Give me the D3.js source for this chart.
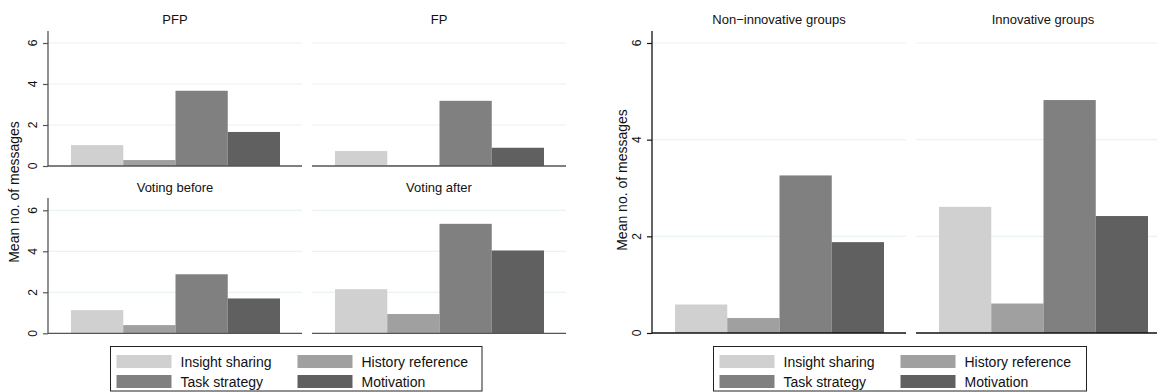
<!DOCTYPE html>
<html>
<head>
<meta charset="utf-8">
<script src="https://cdn.jsdelivr.net/npm/d3@7"></script>
<style>
  body { margin: 0; background: #fff; }
  svg { display: block; font-family: "Liberation Sans", Arial, sans-serif; }
</style>
</head>
<body>
<svg id="chart" width="1157" height="392"></svg>
<script>
// series (message types) and their fills
var seriesNames = ["Insight sharing", "History reference", "Task strategy", "Motivation"];
var seriesColors = ["#d0d0d0", "#a0a0a0", "#808080", "#606060"];

// left figure: 2x2 panels
var leftTitles = ["PFP", "FP", "Voting before", "Voting after"];
var leftValues = [
  [1.02, 0.29, 3.67, 1.66],
  [0.73, 0.03, 3.18, 0.89],
  [1.13, 0.40, 2.88, 1.70],
  [2.15, 0.94, 5.34, 4.04]
];

// right figure: 1x2 panels
var rightTitles = ["Non\u2212innovative groups", "Innovative groups"];
var rightValues = [
  [0.59, 0.31, 3.26, 1.88],
  [2.61, 0.61, 4.82, 2.42]
];

var yTicks = [0, 2, 4, 6];
var yLabel = "Mean no. of messages";

var svg = d3.select("#chart");

// one panel: bars, grid, baseline, title, optional y axis
function drawPanel(opt) {
  var g = svg.append("g");
  var y = d3.scaleLinear().domain([0, 6]).range([opt.y0, opt.y6]);
  var x = d3.scaleBand().domain(seriesNames)
    .range([opt.x + 23, opt.x + opt.w - 22]).padding(0);
  var xEnd = Math.min(opt.x + opt.w, 1157);

  // light grid
  g.selectAll("line.grid").data(yTicks.filter(function(d) { return d > 0; }))
    .enter().append("line")
    .attr("x1", opt.x).attr("x2", xEnd)
    .attr("y1", function(d) { return y(d); }).attr("y2", function(d) { return y(d); })
    .attr("stroke", "#eaf2f3").attr("stroke-width", 1.2);

  g.selectAll("rect").data(opt.values).enter().append("rect")
    .attr("x", function(d, i) { return x(seriesNames[i]); })
    .attr("width", x.bandwidth())
    .attr("y", function(d) { return y(d); })
    .attr("height", function(d) { return y(0) - y(d); })
    .attr("fill", function(d, i) { return seriesColors[i]; });

  // baseline
  g.append("line")
    .attr("x1", opt.x).attr("x2", xEnd)
    .attr("y1", y(0)).attr("y2", y(0))
    .attr("stroke", opt.axisColor).attr("stroke-width", 1.3);

  g.append("text")
    .attr("x", opt.x + opt.w / 2).attr("y", opt.titleY)
    .attr("text-anchor", "middle").attr("font-size", 13).attr("fill", "#111")
    .text(opt.title);

  if (opt.yaxis) {
    var ax = g.append("g").attr("transform", "translate(" + opt.x + ",0)")
      .call(d3.axisLeft(y).tickValues(yTicks).tickSize(5).tickFormat(""));
    ax.select(".domain").remove();
    ax.selectAll(".tick line").attr("stroke", opt.axisColor).attr("stroke-width", 1.2);
    // rotated tick labels, Stata style
    g.selectAll("text.tl").data(yTicks).enter().append("text")
      .attr("transform", function(d) {
        return "translate(" + (opt.x - 11) + "," + y(d) + ") rotate(-90)";
      })
      .attr("text-anchor", "middle")
      .attr("font-size", 12).attr("fill", "#111")
      .text(function(d) { return d; });
    g.append("line")
      .attr("x1", opt.x).attr("x2", opt.x)
      .attr("y1", opt.axisTop).attr("y2", y(0))
      .attr("stroke", opt.axisColor).attr("stroke-width", 1.3);
  }
}

function drawLegend(bx, by, bw, bh, sw, col2) {
  var g = svg.append("g");
  g.append("rect").attr("x", bx).attr("y", by).attr("width", bw).attr("height", bh)
    .attr("fill", "#fff").attr("stroke", "#222").attr("stroke-width", 1);
  var rows = [by + 8.5, by + 28.5];
  seriesNames.forEach(function(name, i) {
    var cx = i % 2 === 0 ? bx + 6 : bx + col2;
    var ry = rows[Math.floor(i / 2)];
    g.append("rect").attr("x", cx).attr("y", ry).attr("width", sw).attr("height", 13)
      .attr("fill", seriesColors[i]);
    g.append("text").attr("x", cx + sw + 9).attr("y", ry + 11.5)
      .attr("font-size", 14).attr("fill", "#111").text(name);
  });
}

// left figure
var lp = [
  { x: 48, titleY: 24, y0: 166, y6: 43, axisTop: 31 },
  { x: 312, titleY: 24, y0: 166, y6: 43, axisTop: 31 },
  { x: 48, titleY: 192, y0: 333.3, y6: 210.3, axisTop: 198 },
  { x: 312, titleY: 192, y0: 333.3, y6: 210.3, axisTop: 198 }
];
lp.forEach(function(p, i) {
  drawPanel({ x: p.x, w: 254, y0: p.y0, y6: p.y6, axisTop: p.axisTop, titleY: p.titleY,
    title: leftTitles[i], values: leftValues[i], yaxis: i % 2 === 0, axisColor: "#555" });
});
svg.append("text")
  .attr("transform", "translate(19,192) rotate(-90)")
  .attr("text-anchor", "middle").attr("font-size", 14).attr("fill", "#111")
  .text(yLabel);
drawLegend(110.5, 346.5, 371.5, 44.5, 55, 187);

// right figure
var rp = [{ x: 652 }, { x: 916 }];
rp.forEach(function(p, i) {
  drawPanel({ x: p.x, w: 254, y0: 333, y6: 43, axisTop: 31, titleY: 24,
    title: rightTitles[i], values: rightValues[i], yaxis: i === 0, axisColor: "#111" });
});
svg.append("text")
  .attr("transform", "translate(627,180) rotate(-90)")
  .attr("text-anchor", "middle").attr("font-size", 14).attr("fill", "#111")
  .text(yLabel);
drawLegend(713.5, 346.5, 373, 44.5, 55, 187);
</script>
</body>
</html>
